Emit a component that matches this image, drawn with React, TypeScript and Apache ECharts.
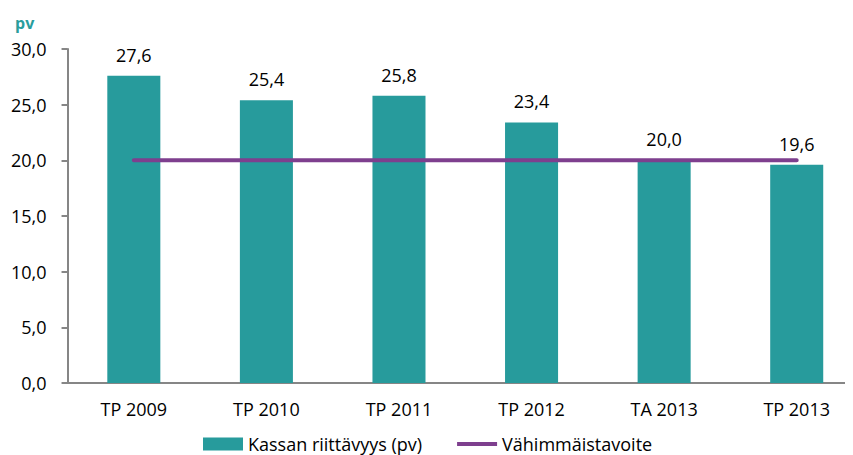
import React, { useEffect, useRef } from "react";
import * as echarts from "echarts";

const categories = ["TP 2009", "TP 2010", "TP 2011", "TP 2012", "TA 2013", "TP 2013"];
const kassanValues = [27.6, 25.4, 25.8, 23.4, 20.0, 19.6];
const tavoiteValues = [20, 20, 20, 20, 20, 20];
const barName = "Kassan riittävyys (pv)";
const lineName = "Vähimmäistavoite";

const fmt = (v: number) => v.toFixed(1).replace(".", ",");
const FONT = "'Open Sans', 'Liberation Sans', sans-serif";

export default function App() {
  const ref = useRef<HTMLDivElement>(null);
  useEffect(() => {
    if (!ref.current) return;
    const chart = echarts.init(ref.current, undefined, { renderer: "svg" });
    chart.setOption({
      animation: false,
      textStyle: { fontFamily: FONT },
      title: {
        text: "pv",
        left: 2,
        top: 2,
        textStyle: { color: "#2A9D9D", fontSize: 16, fontWeight: "bold", fontFamily: FONT },
      },
      legend: {
        bottom: -3,
        left: 190,
        itemGap: 35,
        itemWidth: 40,
        itemHeight: 13,
        textStyle: { fontSize: 18, color: "#000", fontFamily: FONT },
        data: [
          { name: barName, icon: "rect" },
          { name: lineName, icon: "path://M0,0 H100 V10 H0 Z" },
        ],
      },
      grid: { left: 59, top: 41, width: 796, height: 334, containLabel: false },
      xAxis: {
        type: "category",
        data: categories,
        axisLine: { lineStyle: { color: "#868686", width: 2 } },
        axisTick: { length: 6, lineStyle: { color: "#868686", width: 2 } },
        axisLabel: { color: "#000", fontSize: 18, margin: 17, fontFamily: FONT },
      },
      yAxis: {
        type: "value",
        min: 0,
        max: 30,
        interval: 5,
        splitLine: { show: false },
        axisLine: { show: true, lineStyle: { color: "#868686", width: 2 } },
        axisTick: { show: true, length: 6, lineStyle: { color: "#868686", width: 2 } },
        axisLabel: { color: "#000", fontSize: 18, margin: 21, formatter: (v: number) => fmt(v), fontFamily: FONT },
      },
      series: [
        {
          name: barName,
          type: "bar",
          data: kassanValues,
          barWidth: "40%",
          itemStyle: { color: "#279B9C" },
          label: {
            show: true,
            position: "top",
            distance: 12,
            color: "#000",
            fontSize: 18,
            fontFamily: FONT,
            formatter: (p: any) => fmt(p.value),
          },
        },
        {
          name: lineName,
          type: "line",
          data: tavoiteValues,
          symbol: "none",
          lineStyle: { color: "#7E3F8E", width: 4, cap: "round" },
          itemStyle: { color: "#7E3F8E" },
        },
      ],
    });
    return () => chart.dispose();
  }, []);
  return (
    <div style={{ width: 837, height: 447, overflow: "hidden" }}>
      <div ref={ref} style={{ width: 870, height: 447 }} />
    </div>
  );
}
